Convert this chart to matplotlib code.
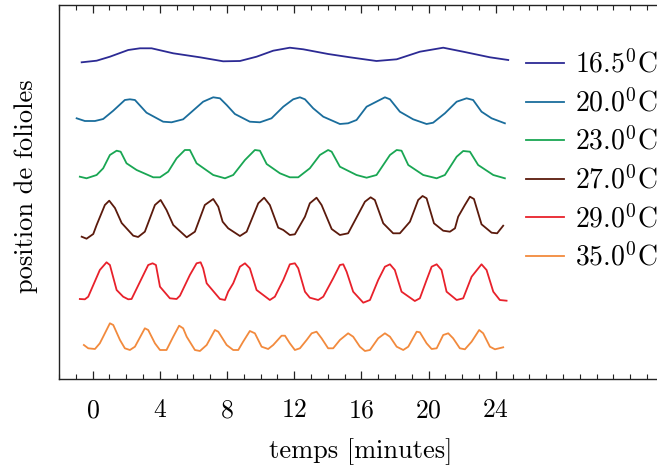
import matplotlib
matplotlib.use("Agg")
import matplotlib.pyplot as plt
from matplotlib.ticker import MultipleLocator

plt.rcParams['font.family'] = 'cmr10'
plt.rcParams['mathtext.fontset'] = 'cm'
plt.rcParams['axes.formatter.use_mathtext'] = True

# values (time in minutes, position in arbitrary units)
labels = ['16.5$^0$C', '20.0$^0$C', '23.0$^0$C', '27.0$^0$C', '29.0$^0$C', '35.0$^0$C']
colors = ['#2c2a94', '#1a6d9c', '#19a653', '#5b1a0c', '#e8212b', '#f28a3d']

t_165 = [-0.65, 0.24, 1.03, 2.12, 2.82, 3.51, 4.80, 6.39, 7.77, 8.77, 9.76, 10.75,
         11.74, 12.54, 14.02, 15.32, 16.90, 18.10, 19.48, 20.87, 22.06, 23.65, 24.74]
y_165 = [31.67, 31.83, 32.23, 32.9, 33.07, 33.07, 32.57, 32.17, 31.77, 31.8, 32.23, 32.83,
         33.13, 32.97, 32.5, 32.17, 31.8, 31.97, 32.73, 33.13, 32.73, 32.17, 31.9]

t_200 = [-0.95, -0.46, 0.14, 0.63, 1.23, 1.92, 2.22, 2.52, 3.21, 4.20, 4.70, 5.39, 6.58,
         7.18, 7.58, 7.98, 8.47, 9.36, 9.96, 10.65, 11.35, 11.94, 12.34, 12.64, 13.13,
         13.73, 14.72, 15.21, 15.71, 16.31, 17.40, 17.70, 18.29, 19.08, 19.88, 20.27,
         20.97, 21.67, 22.26, 22.65, 23.15, 23.75, 24.54]
y_200 = [26.07, 25.8, 25.8, 26.0, 26.83, 27.9, 27.97, 27.9, 26.63, 25.73, 25.67, 25.97,
         27.73, 28.17, 28.07, 27.4, 26.5, 25.73, 25.67, 26.07, 27.23, 27.97, 28.17, 27.97,
         27.07, 26.23, 25.5, 25.57, 25.9, 27.23, 28.17, 27.97, 26.73, 25.97, 25.5, 25.63,
         26.57, 27.73, 28.07, 27.9, 26.73, 26.07, 25.57]

t_230 = [-0.76, -0.36, 0.24, 0.63, 1.03, 1.43, 1.67, 2.02, 2.62, 3.61, 4.01, 4.50, 5.0,
         5.49, 5.79, 6.19, 7.18, 7.88, 8.37, 9.07, 9.66, 9.96, 10.36, 11.15, 11.74, 12.24,
         12.93, 13.53, 14.02, 14.23, 14.72, 15.71, 16.31, 16.90, 17.70, 18.10, 18.39,
         18.79, 19.68, 20.48, 20.97, 21.67, 22.06, 22.46, 22.95, 23.85, 24.54]
y_230 = [20.23, 20.07, 20.4, 21.07, 22.4, 22.83, 22.73, 21.57, 20.9, 20.17, 20.17, 20.73,
         22.07, 22.9, 22.9, 21.57, 20.4, 20.07, 20.4, 21.9, 22.9, 22.83, 21.5, 20.57, 20.17,
         20.17, 21.07, 22.4, 22.9, 22.73, 21.23, 20.4, 20.13, 20.4, 22.4, 22.9, 22.83, 21.4,
         20.4, 20.07, 20.4, 22.23, 22.8, 22.73, 21.4, 20.4, 20.07]

t_270 = [-0.65, -0.36, 0.04, 0.24, 0.73, 0.99, 1.33, 1.73, 2.42, 2.71, 3.11, 3.71, 4.05,
         4.40, 4.80, 5.60, 6.09, 6.68, 7.18, 7.48, 7.74, 8.07, 8.77, 9.17, 9.86, 10.21,
         10.55, 11.05, 11.35, 11.74, 12.04, 12.64, 12.93, 13.33, 13.63, 14.23, 14.72,
         15.21, 16.21, 16.55, 16.80, 17.30, 17.89, 18.29, 18.89, 19.38, 19.64, 19.88,
         20.32, 20.87, 21.27, 21.57, 21.76, 22.16, 22.46, 22.70, 23.15, 23.75, 24.08, 24.44]
y_270 = [14.23, 14.03, 14.5, 15.4, 17.4, 17.83, 17.1, 15.6, 14.33, 14.2, 14.73, 17.4, 17.9,
         16.9, 15.4, 14.17, 14.73, 17.4, 18.0, 17.23, 15.73, 15.07, 14.3, 14.73, 17.57,
         18.13, 17.4, 15.13, 14.9, 14.4, 14.47, 16.23, 17.57, 18.13, 17.4, 15.0, 14.4,
         14.57, 17.73, 18.17, 17.9, 15.57, 14.57, 14.57, 15.73, 17.9, 18.3, 18.07, 15.57,
         14.83, 14.73, 15.07, 16.23, 17.4, 18.23, 18.0, 15.47, 14.63, 14.57, 15.33]

t_290 = [-0.76, -0.46, -0.26, 0.43, 0.83, 1.03, 1.43, 1.82, 2.12, 2.32, 3.31, 3.57, 3.77,
         4.01, 4.60, 5.0, 5.20, 5.79, 6.19, 6.43, 6.58, 6.79, 7.58, 7.88, 8.07, 8.37, 8.77,
         9.07, 9.36, 9.76, 10.55, 10.85, 11.35, 11.74, 12.04, 12.24, 12.64, 12.93, 13.43,
         13.73, 14.32, 14.72, 14.92, 15.12, 15.51, 16.11, 16.51, 17.0, 17.40, 17.70, 17.99,
         18.39, 19.18, 19.48, 19.88, 20.18, 20.48, 20.77, 21.07, 21.67, 22.06, 22.56, 23.15,
         23.45, 23.85, 24.24, 24.64]
y_290 = [8.0, 7.97, 8.23, 10.9, 11.67, 11.4, 8.9, 8.23, 7.97, 8.0, 11.4, 11.57, 11.4, 9.23,
         8.07, 8.0, 8.33, 10.4, 11.57, 11.67, 11.07, 9.57, 8.0, 7.9, 8.73, 9.57, 11.23, 11.57,
         11.07, 8.9, 7.9, 8.23, 9.9, 11.47, 11.57, 11.07, 8.73, 8.13, 7.9, 8.23, 10.07, 11.4,
         11.47, 10.73, 8.73, 7.63, 7.9, 9.9, 11.23, 11.47, 10.9, 8.73, 7.8, 8.07, 9.9, 11.23,
         11.47, 10.9, 8.73, 7.9, 8.07, 10.23, 11.47, 10.9, 8.73, 7.9, 7.83]

t_350 = [-0.52, -0.26, 0.14, 0.43, 0.63, 1.03, 1.23, 1.63, 1.92, 2.22, 2.52, 3.11, 3.31,
         3.71, 4.01, 4.40, 4.80, 5.15, 5.39, 5.60, 6.09, 6.39, 6.79, 7.28, 7.48, 7.98, 8.37,
         8.67, 8.96, 9.36, 9.66, 10.06, 10.45, 10.75, 11.25, 11.45, 11.74, 12.04, 12.34,
         12.74, 13.04, 13.33, 13.63, 14.02, 14.32, 14.72, 15.21, 15.51, 15.91, 16.21, 16.51,
         17.0, 17.40, 17.70, 18.10, 18.49, 18.79, 19.29, 19.48, 19.88, 20.18, 20.48, 20.87,
         21.17, 21.46, 21.86, 22.16, 22.56, 23.01, 23.25, 23.65, 23.95, 24.44]
y_350 = [3.4, 3.07, 3.0, 3.57, 4.23, 5.57, 5.4, 3.9, 3.07, 2.9, 3.23, 5.07, 4.9, 3.57, 2.9,
         2.9, 4.23, 5.33, 5.07, 4.23, 2.9, 2.8, 3.4, 4.9, 4.73, 3.4, 2.9, 2.9, 3.73, 4.8,
         4.57, 3.23, 3.0, 3.4, 4.33, 4.33, 3.57, 2.9, 3.07, 3.9, 4.57, 4.73, 4.07, 3.07, 3.07,
         3.9, 4.57, 4.23, 3.23, 2.8, 2.9, 4.07, 4.57, 4.23, 3.23, 2.9, 3.23, 4.73, 4.67, 3.57,
         3.0, 3.07, 4.4, 4.57, 4.07, 3.07, 2.97, 3.73, 4.9, 4.57, 3.23, 2.97, 3.17]

times = [t_165, t_200, t_230, t_270, t_290, t_350]
positions = [y_165, y_200, y_230, y_270, y_290, y_350]

fig = plt.figure(figsize=(6.57, 4.70), dpi=100)
# axes box runs past the right edge of the figure, as in the reference
ax = fig.add_axes([59 / 657, 91 / 470, 638.4 / 657, 374 / 470])

for t, y, c, lab in zip(times, positions, colors, labels):
    ax.plot(t, y, color=c, lw=1.3, label=lab, solid_joinstyle='round')

ax.set_xlim(-2, 36)
ax.set_ylim(0, 37.4)
ax.set_xticks([0, 4, 8, 12, 16, 20, 24])
ax.xaxis.set_minor_locator(MultipleLocator(1))
ax.set_yticks([])
ax.tick_params(axis='x', which='both', direction='in', top=True, labelsize=18.5, pad=14,
               color='#222222')
ax.tick_params(axis='x', which='major', length=6, width=0.9)
ax.tick_params(axis='x', which='minor', length=3.5, width=0.8)
for s in ['left', 'bottom', 'top']:
    ax.spines[s].set_linewidth(1.0)
    ax.spines[s].set_color('#222222')
ax.spines['right'].set_visible(False)

ax.set_xlabel('temps [minutes]', fontsize=19)
ax.xaxis.set_label_coords(0.473, -0.158)
ax.set_ylabel('position de folioles', fontsize=19)
ax.yaxis.set_label_coords(-0.033, 0.515)

fig.legend(loc='upper left', bbox_to_anchor=(526 / 657, 1 - 50 / 470), frameon=False,
           fontsize=20, handlelength=1.35, handletextpad=0.42, labelspacing=0.36,
           borderpad=0, borderaxespad=0)

fig.savefig('out.png', dpi=100)
